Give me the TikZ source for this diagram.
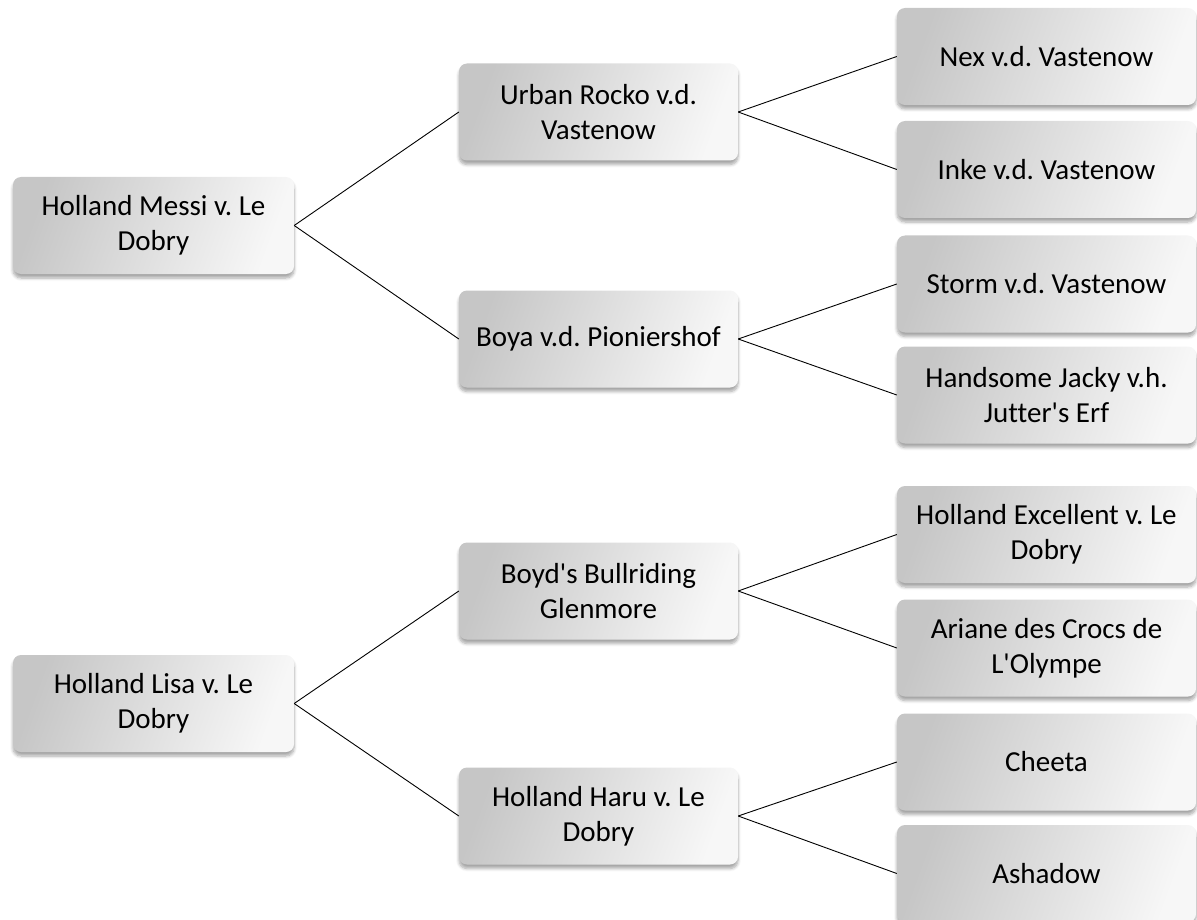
\documentclass[tikz,border=0pt]{standalone}
\usepackage{fontspec}
\setmainfont{Carlito}[Ligatures={TeXOff,NoCommon}]
\usetikzlibrary{shadows.blur}
\frenchspacing
\tikzset{
  box/.style={rectangle, rounded corners=8pt, align=center,
    left color=boxdark, right color=boxlight, shading angle=70,
    blur shadow={shadow blur steps=6, shadow xshift=0pt, shadow yshift=-4pt, shadow opacity=35, shadow blur radius=3pt},
    font=\fontsize{29}{35}\selectfont, text=black, inner sep=0pt, minimum height=97pt},
  lvlzero/.style={box, minimum width=281pt},
  lvlone/.style={box, minimum width=279pt},
  lvltwo/.style={box, minimum width=299pt},
  link/.style={draw=black, line width=0.9pt}
}
\definecolor{boxdark}{HTML}{C6C6C6}
\definecolor{boxlight}{HTML}{F7F7F7}
\begin{document}
\begin{tikzpicture}[x=1pt,y=-1pt]
\useasboundingbox (0,0) rectangle (1197,920);
% level 0
\node[lvlzero] (messi) at (153.5,225.5) {Holland Messi v. Le\\Dobry};
\node[lvlzero] (lisa) at (153.5,703.5) {Holland Lisa v. Le\\Dobry};
% level 1
\node[lvlone] (urban) at (598.5,112) {Urban Rocko v.d.\\Vastenow};
\node[lvlone] (boya) at (598.5,339) {Boya v.d. Pioniershof};
\node[lvlone] (boyd) at (598.5,591) {Boyd's Bullriding\\Glenmore};
\node[lvlone] (haru) at (598.5,816) {Holland Haru v. Le\\Dobry};
% level 2
\node[lvltwo] (nex) at (1046.5,56.5) {Nex v.d. Vastenow};
\node[lvltwo] (inke) at (1046.5,169.5) {Inke v.d. Vastenow};
\node[lvltwo] (storm) at (1046.5,284) {Storm v.d. Vastenow};
\node[lvltwo] (handsome) at (1046.5,395) {Handsome Jacky v.h.\\Jutter's Erf};
\node[lvltwo] (excellent) at (1046.5,534.5) {Holland Excellent v. Le\\Dobry};
\node[lvltwo] (ariane) at (1046.5,648) {Ariane des Crocs de\\L'Olympe};
\node[lvltwo] (cheeta) at (1046.5,762) {Cheeta};
\node[lvltwo] (ashadow) at (1046.5,873.5) {Ashadow};
% connectors
\draw[link] (messi.east) -- (urban.west);
\draw[link] (messi.east) -- (boya.west);
\draw[link] (lisa.east) -- (boyd.west);
\draw[link] (lisa.east) -- (haru.west);
\draw[link] (urban.east) -- (nex.west);
\draw[link] (urban.east) -- (inke.west);
\draw[link] (boya.east) -- (storm.west);
\draw[link] (boya.east) -- (handsome.west);
\draw[link] (boyd.east) -- (excellent.west);
\draw[link] (boyd.east) -- (ariane.west);
\draw[link] (haru.east) -- (cheeta.west);
\draw[link] (haru.east) -- (ashadow.west);
\end{tikzpicture}
\end{document}
